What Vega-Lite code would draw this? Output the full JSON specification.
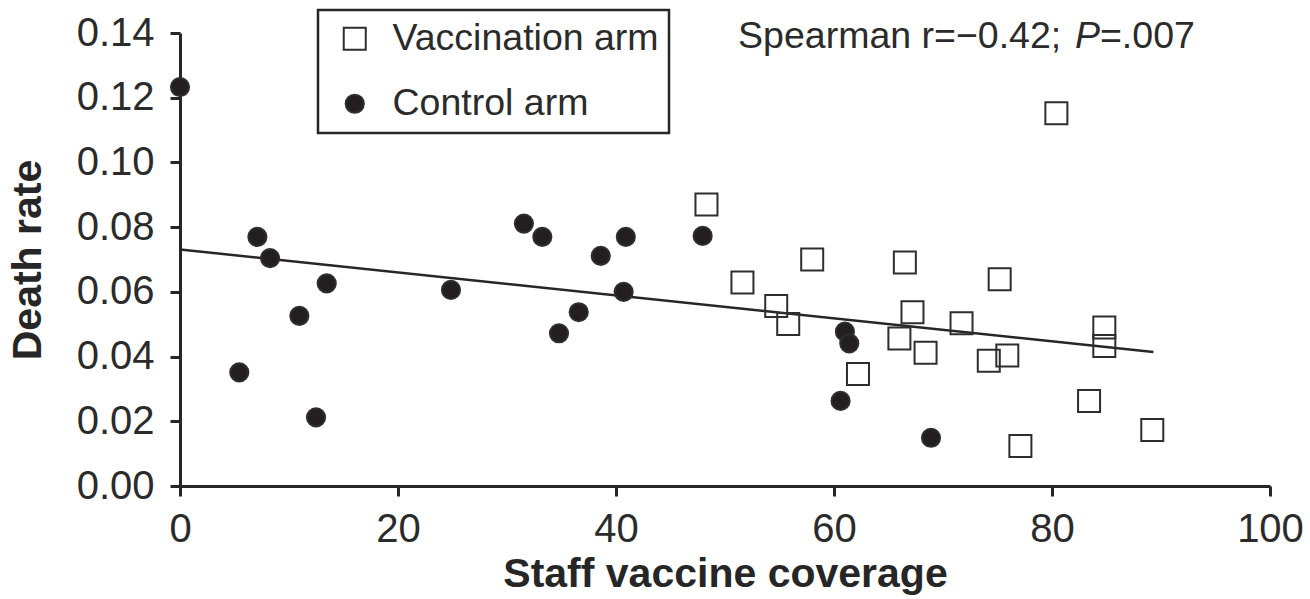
{
  "$schema": "https://vega.github.io/schema/vega-lite/v6.json",
  "width": 1090,
  "height": 453,
  "autosize": {"type": "none"},
  "padding": {"left": 180, "top": 33, "right": 40, "bottom": 113},
  "background": "white",
  "config": {
    "view": {"stroke": null},
    "font": "Liberation Sans",
    "legend": {"strokeWidth": 2.5}
  },
  "layer": [
    {
      "data": {"values": [
        {"coverage": 0, "rate": 0.0731},
        {"coverage": 89.3, "rate": 0.0414}
      ]},
      "mark": {"type": "line", "color": "#262626", "strokeWidth": 2.5},
      "encoding": {
        "x": {"field": "coverage", "type": "quantitative", "scale": {"domain": [0, 100], "nice": false},
          "axis": {"values": [0, 20, 40, 60, 80, 100], "title": "Staff vaccine coverage", "grid": false,
            "titleFontSize": 41, "titleFontWeight": "bold", "titleColor": "#262626", "titlePadding": 5,
            "labelFontSize": 40, "labelColor": "#2b2b2b", "labelPadding": 13, "labelFlush": false,
            "tickSize": 10, "tickWidth": 3, "tickColor": "#262626", "domainWidth": 3, "domainColor": "#262626"}},
        "y": {"field": "rate", "type": "quantitative", "scale": {"domain": [0, 0.14], "nice": false},
          "axis": {"values": [0, 0.02, 0.04, 0.06, 0.08, 0.1, 0.12, 0.14], "format": ".2f", "title": "Death rate", "grid": false,
            "titleFontSize": 41, "titleFontWeight": "bold", "titleColor": "#262626", "titlePadding": 27,
            "labelFontSize": 40, "labelColor": "#2b2b2b", "labelPadding": 16, "labelFlush": false,
            "tickSize": 10, "tickWidth": 3, "tickColor": "#262626", "domainWidth": 3, "domainColor": "#262626"}}
      }
    },
    {
      "data": {"values": [
        {"arm": "Control arm", "coverage": 0, "rate": 0.1233},
        {"arm": "Control arm", "coverage": 5.44, "rate": 0.0351},
        {"arm": "Control arm", "coverage": 7.1, "rate": 0.0770},
        {"arm": "Control arm", "coverage": 8.26, "rate": 0.0704},
        {"arm": "Control arm", "coverage": 10.95, "rate": 0.0526},
        {"arm": "Control arm", "coverage": 12.48, "rate": 0.0212},
        {"arm": "Control arm", "coverage": 13.46, "rate": 0.0626},
        {"arm": "Control arm", "coverage": 24.86, "rate": 0.0606},
        {"arm": "Control arm", "coverage": 31.55, "rate": 0.0811},
        {"arm": "Control arm", "coverage": 33.24, "rate": 0.0770},
        {"arm": "Control arm", "coverage": 34.77, "rate": 0.0472},
        {"arm": "Control arm", "coverage": 36.58, "rate": 0.0537},
        {"arm": "Control arm", "coverage": 38.6, "rate": 0.0711},
        {"arm": "Control arm", "coverage": 40.7, "rate": 0.0600},
        {"arm": "Control arm", "coverage": 40.9, "rate": 0.0770},
        {"arm": "Control arm", "coverage": 47.95, "rate": 0.0773},
        {"arm": "Control arm", "coverage": 60.6, "rate": 0.0263},
        {"arm": "Control arm", "coverage": 61.0, "rate": 0.0477},
        {"arm": "Control arm", "coverage": 61.4, "rate": 0.0441},
        {"arm": "Control arm", "coverage": 68.9, "rate": 0.0149},
        {"arm": "Vaccination arm", "coverage": 48.3, "rate": 0.0870},
        {"arm": "Vaccination arm", "coverage": 51.6, "rate": 0.0629},
        {"arm": "Vaccination arm", "coverage": 54.7, "rate": 0.0556},
        {"arm": "Vaccination arm", "coverage": 55.8, "rate": 0.0501},
        {"arm": "Vaccination arm", "coverage": 58.0, "rate": 0.0700},
        {"arm": "Vaccination arm", "coverage": 62.2, "rate": 0.0346},
        {"arm": "Vaccination arm", "coverage": 66.0, "rate": 0.0456},
        {"arm": "Vaccination arm", "coverage": 66.5, "rate": 0.0691},
        {"arm": "Vaccination arm", "coverage": 67.2, "rate": 0.0537},
        {"arm": "Vaccination arm", "coverage": 68.4, "rate": 0.0412},
        {"arm": "Vaccination arm", "coverage": 71.7, "rate": 0.0503},
        {"arm": "Vaccination arm", "coverage": 74.2, "rate": 0.0387},
        {"arm": "Vaccination arm", "coverage": 75.2, "rate": 0.0639},
        {"arm": "Vaccination arm", "coverage": 75.9, "rate": 0.0403},
        {"arm": "Vaccination arm", "coverage": 77.1, "rate": 0.0124},
        {"arm": "Vaccination arm", "coverage": 80.4, "rate": 0.1152},
        {"arm": "Vaccination arm", "coverage": 83.4, "rate": 0.0263},
        {"arm": "Vaccination arm", "coverage": 84.8, "rate": 0.0490},
        {"arm": "Vaccination arm", "coverage": 84.8, "rate": 0.0433},
        {"arm": "Vaccination arm", "coverage": 89.2, "rate": 0.0173}
      ]},
      "mark": {"type": "point", "filled": true, "opacity": 1, "stroke": "#2e2e2e", "strokeWidth": 2},
      "encoding": {
        "x": {"field": "coverage", "type": "quantitative"},
        "y": {"field": "rate", "type": "quantitative"},
        "shape": {"field": "arm", "type": "nominal",
          "scale": {"domain": ["Vaccination arm", "Control arm"], "range": ["square", "circle"]},
          "legend": {"orient": "none", "legendX": 138, "legendY": -23, "title": null, "padding": 10,
            "strokeColor": "#262626", "labelFontSize": 37.5, "labelColor": "#2b2b2b", "labelOffset": 19,
            "labelLimit": 600, "rowPadding": 26, "symbolOffset": 8, "symbolStrokeWidth": 2, "symbolStrokeColor": "#2e2e2e"}},
        "fill": {"field": "arm", "type": "nominal",
          "scale": {"domain": ["Vaccination arm", "Control arm"], "range": ["transparent", "#231f20"]}},
        "size": {"field": "arm", "type": "nominal",
          "scale": {"domain": ["Vaccination arm", "Control arm"], "range": [484, 330]}}
      }
    },
    {
      "data": {"values": [
        {"coverage": 51.2, "rate": 0.1388, "label": "Spearman r=−0.42;"},
        {"coverage": 84.4, "rate": 0.1388, "label": "=.007"}
      ]},
      "mark": {"type": "text", "align": "left", "baseline": "middle", "fontSize": 37.5, "color": "#2b2b2b"},
      "encoding": {
        "x": {"field": "coverage", "type": "quantitative"},
        "y": {"field": "rate", "type": "quantitative"},
        "text": {"field": "label"}
      }
    },
    {
      "data": {"values": [
        {"coverage": 82.1, "rate": 0.1388, "label": "P"}
      ]},
      "mark": {"type": "text", "align": "left", "baseline": "middle", "fontSize": 37.5, "fontStyle": "italic", "color": "#2b2b2b"},
      "encoding": {
        "x": {"field": "coverage", "type": "quantitative"},
        "y": {"field": "rate", "type": "quantitative"},
        "text": {"field": "label"}
      }
    }
  ]
}
